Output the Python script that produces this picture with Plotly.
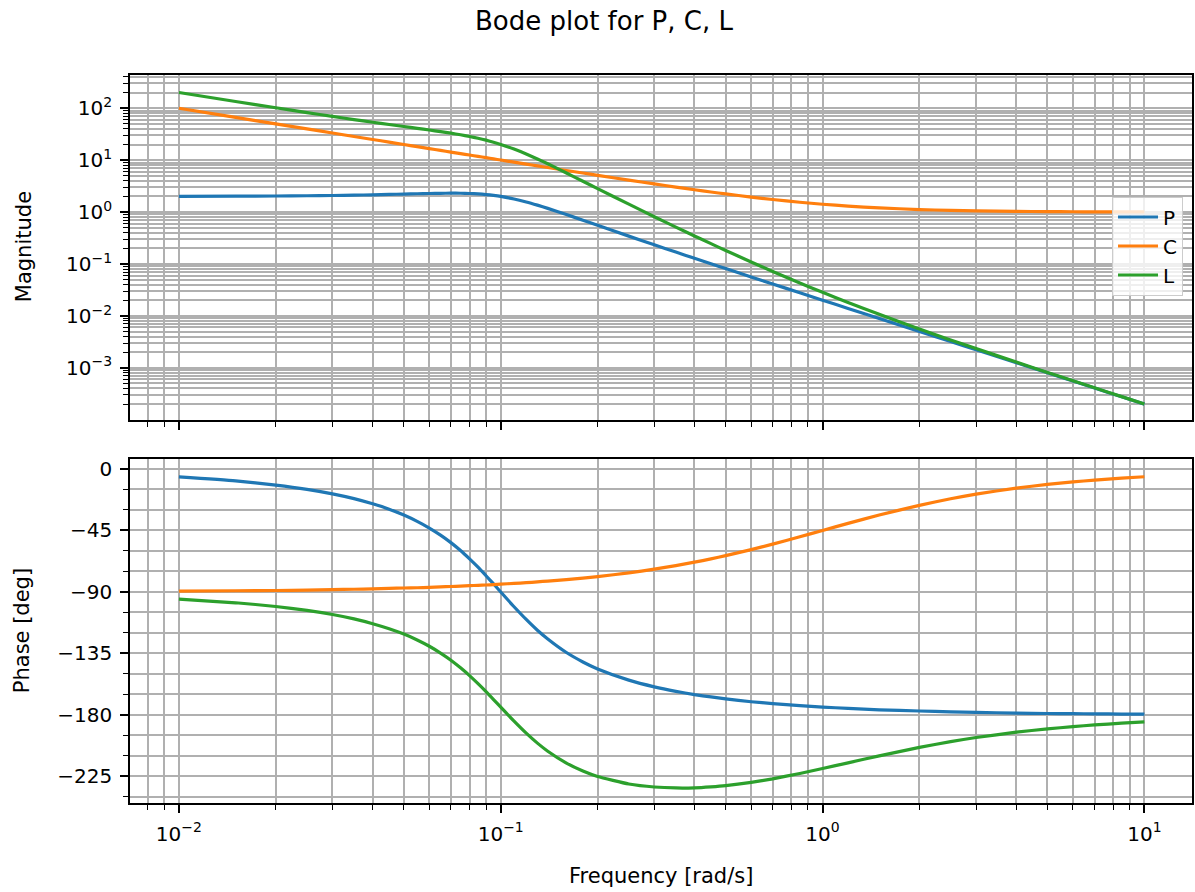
import plotly.graph_objects as go

# ---- data ----
freq = [0.01, 0.015, 0.02, 0.025, 0.03, 0.035, 0.04, 0.045, 0.05, 0.055,
        0.06, 0.065, 0.07, 0.075, 0.08, 0.085, 0.09, 0.095, 0.1, 0.11,
        0.12, 0.13, 0.14, 0.16, 0.18, 0.2, 0.25, 0.3, 0.35, 0.4,
        0.45, 0.5, 0.6, 0.7, 0.85, 1.0, 1.2, 1.5, 2.0, 2.5,
        3.0, 4.0, 5.0, 6.0, 7.0, 8.5, 10.0]

P_mag = [2.010, 2.022, 2.040, 2.061, 2.087, 2.117, 2.150, 2.184, 2.219, 2.252,
         2.280, 2.300, 2.309, 2.303, 2.280, 2.237, 2.174, 2.094, 2.000, 1.786,
         1.565, 1.359, 1.178, 0.895, 0.696, 0.5547, 0.3439, 0.2341, 0.1698, 0.1288,
         0.1012, 0.08158, 0.05632, 0.04123, 0.02787, 0.02010, 0.01394, 0.008909, 0.005006, 0.003203,
         0.002223, 0.001250, 0.0008002, 0.0005556, 0.0004082, 0.0002768, 0.0002000]

C_mag = [100.0, 66.67, 50.01, 40.01, 33.35, 28.59, 25.02, 22.24, 20.02, 18.21,
         16.70, 15.42, 14.32, 13.37, 12.54, 11.81, 11.16, 10.57, 10.05, 9.146,
         8.393, 7.757, 7.212, 6.330, 5.645, 5.099, 4.123, 3.480, 3.027, 2.693,
         2.437, 2.236, 1.944, 1.744, 1.544, 1.414, 1.302, 1.202, 1.118, 1.077,
         1.054, 1.031, 1.020, 1.014, 1.010, 1.007, 1.005]

L_mag = [201.0, 134.8, 102.0, 82.48, 69.61, 60.52, 53.78, 48.59, 44.43, 41.00,
         38.07, 35.46, 33.07, 30.80, 28.59, 26.41, 24.26, 22.14, 20.10, 16.33,
         13.13, 10.54, 8.498, 5.665, 3.929, 2.828, 1.418, 0.8146, 0.5139, 0.3469,
         0.2465, 0.1824, 0.1095, 0.07190, 0.04304, 0.02843, 0.01814, 0.01071, 0.005597, 0.003449,
         0.002344, 0.001289, 0.0008160, 0.0005633, 0.0004123, 0.0002787, 0.0002010]

P_phase = [-5.8, -8.7, -11.8, -14.9, -18.2, -21.7, -25.5, -29.4, -33.7, -38.3,
           -43.2, -48.4, -53.9, -59.7, -65.8, -71.9, -78.1, -84.1, -90.0, -100.8,
           -110.1, -118.0, -124.4, -134.3, -141.2, -146.3, -154.5, -159.4, -162.7, -165.1,
           -166.8, -168.2, -170.3, -171.7, -173.2, -174.2, -175.2, -176.2, -177.1, -177.7,
           -178.1, -178.6, -178.9, -179.0, -179.2, -179.3, -179.4]

C_phase = [-89.4, -89.1, -88.9, -88.6, -88.3, -88.0, -87.7, -87.4, -87.1, -86.9,
           -86.6, -86.3, -86.0, -85.7, -85.4, -85.1, -84.9, -84.6, -84.3, -83.7,
           -83.2, -82.6, -82.0, -80.9, -79.8, -78.7, -76.0, -73.3, -70.7, -68.2,
           -65.8, -63.4, -59.0, -55.0, -49.6, -45.0, -39.8, -33.7, -26.6, -21.8,
           -18.4, -14.0, -11.3, -9.5, -8.1, -6.7, -5.7]

L_phase = [-95.2, -97.9, -100.6, -103.5, -106.5, -109.7, -113.2, -116.9, -120.8, -125.1,
           -129.7, -134.7, -139.9, -145.5, -151.2, -157.1, -162.9, -168.7, -174.3, -184.5,
           -193.3, -200.6, -206.5, -215.2, -221.0, -225.0, -230.5, -232.7, -233.4, -233.3,
           -232.6, -231.7, -229.3, -226.7, -222.8, -219.2, -215.0, -209.9, -203.7, -199.5,
           -196.5, -192.6, -190.2, -188.5, -187.3, -186.0, -185.1]

names = ["P", "C", "L"]
colors = ["#1f77b4", "#ff7f0e", "#2ca02c"]

freq_ticks = [0.01, 0.1, 1, 10]
freq_ticktext = ["10<sup>−2</sup>", "10<sup>−1</sup>", "10<sup>0</sup>", "10<sup>1</sup>"]
mag_ticks = [1e-3, 1e-2, 1e-1, 1, 10, 100]
mag_ticktext = ["10<sup>−3</sup>", "10<sup>−2</sup>", "10<sup>−1</sup>",
                "10<sup>0</sup>", "10<sup>1</sup>", "10<sup>2</sup>"]
phase_ticks = [0, -45, -90, -135, -180, -225]
phase_ticktext = ["0", "−45", "−90", "−135", "−180", "−225"]

# minor tick positions (2..9 per decade; every 15 degrees)
freq_minor = [k * 10.0 ** e for e in range(-3, 2) for k in range(2, 10)]
mag_minor = [k * 10.0 ** e for e in range(-4, 3) for k in range(2, 10)]
phase_minor = [v for v in range(0, -250, -15) if v % 45 != 0]

FONT = "DejaVu Sans"
W, H = 1195, 892
ML, MR, MT, MB = 130, 1, 75, 89
plot_h = H - MT - MB

def py(pix):  # pixel y -> paper y
    return (H - MB - pix) / plot_h

fig = go.Figure()
mags = [P_mag, C_mag, L_mag]
phases = [P_phase, C_phase, L_phase]
for n, c, m in zip(names, colors, mags):
    fig.add_trace(go.Scatter(x=freq, y=m, name=n, mode="lines",
                             line=dict(color=c, width=3.2, shape="spline", smoothing=0.5),
                             xaxis="x", yaxis="y", showlegend=True))
for n, c, p in zip(names, colors, phases):
    fig.add_trace(go.Scatter(x=freq, y=p, name=n, mode="lines",
                             line=dict(color=c, width=3.2, shape="spline", smoothing=0.5),
                             xaxis="x2", yaxis="y2", showlegend=False))

grid = "#b0b0b0"
common = dict(showline=True, mirror=True, linecolor="black", linewidth=1.7,
              ticks="outside", ticklen=8, tickwidth=1.7, tickcolor="black",
              showgrid=True, gridcolor=grid, gridwidth=1.7, zeroline=False,
              tickfont=dict(family=FONT, size=20, color="black"))

def minor(vals):
    return dict(tickmode="array", tickvals=vals, ticks="outside", ticklen=5,
                tickwidth=1.3, tickcolor="black", showgrid=True,
                gridcolor=grid, gridwidth=1.7)

xrange_log = [-2.152, 1.148]
fig.update_layout(
    width=W, height=H,
    margin=dict(l=ML, r=MR, t=MT, b=MB, pad=0),
    paper_bgcolor="white", plot_bgcolor="white",
    font=dict(family=FONT, size=20, color="black"),
    title=dict(text="Bode plot for P, C, L", x=604 / W, xref="container", xanchor="center",
               y=1 - 21 / H, yref="container", yanchor="middle",
               font=dict(family=FONT, size=26, color="black")),
    xaxis=dict(type="log", range=xrange_log, domain=[0, 1], anchor="y",
               tickmode="array", tickvals=freq_ticks, ticktext=freq_ticktext,
               showticklabels=False, minor=minor(freq_minor), **common),
    yaxis=dict(type="log", range=[-4.005, 2.64], domain=[py(420), 1], anchor="x",
               tickmode="array", tickvals=mag_ticks, ticktext=mag_ticktext,
               ticklabelstandoff=4,
               minor=minor(mag_minor), **common),
    xaxis2=dict(type="log", range=xrange_log, domain=[0, 1], anchor="y2", matches="x",
                tickmode="array", tickvals=freq_ticks, ticktext=freq_ticktext,
                ticklabelstandoff=4,
                minor=minor(freq_minor), **common),
    yaxis2=dict(range=[-244.4, 7.3], domain=[0, py(459)], anchor="x2",
                tickmode="array", tickvals=phase_ticks, ticktext=phase_ticktext,
                ticklabelstandoff=4,
                minor=minor(phase_minor), **common),
    legend=dict(x=(1185 - ML) / (W - ML - MR), xanchor="right",
                y=py(246), yanchor="middle",
                bgcolor="rgba(255,255,255,0.8)", bordercolor="#cccccc", borderwidth=1,
                font=dict(family=FONT, size=20, color="black"),
                itemwidth=40, tracegroupgap=0),
    annotations=[
        dict(text="Magnitude", x=24, xref="paper", y=py(247), yref="paper",
             showarrow=False, textangle=-90, font=dict(family=FONT, size=21),
             xanchor="center", yanchor="middle"),
        dict(text="Phase [deg]", x=22, xref="paper", y=py(631), yref="paper",
             showarrow=False, textangle=-90, font=dict(family=FONT, size=21),
             xanchor="center", yanchor="middle"),
        dict(text="Frequency [rad/s]", x=0.5, xref="paper", y=py(876), yref="paper",
             showarrow=False, font=dict(family=FONT, size=21),
             xanchor="center", yanchor="middle"),
    ],
)
# annotation x positions given in pixels -> convert to paper
pw = W - ML - MR
for a in fig.layout.annotations[:2]:
    a.x = (a.x - ML) / pw

fig.write_html("out.html")
